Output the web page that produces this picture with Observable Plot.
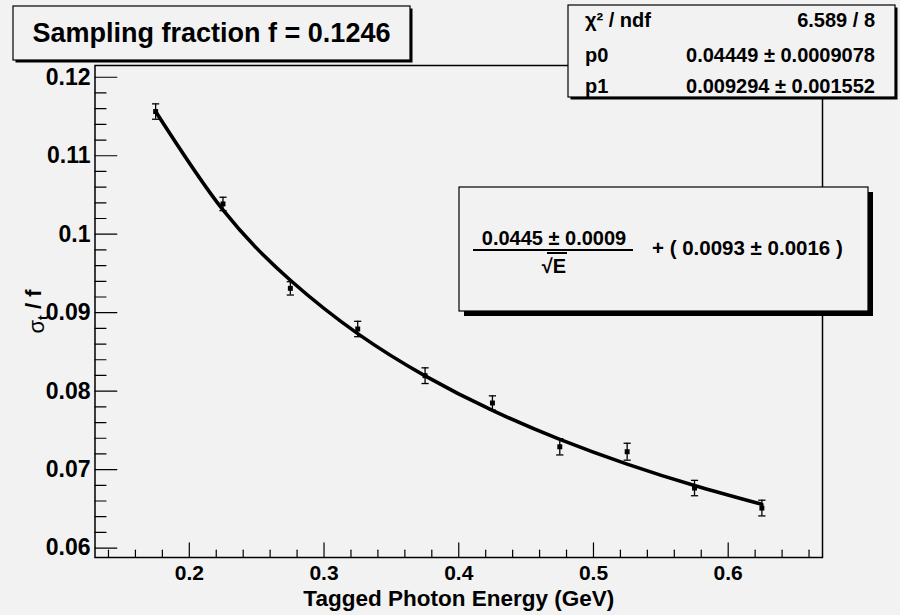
<!DOCTYPE html>
<html><head><meta charset="utf-8">
<script src="https://cdn.jsdelivr.net/npm/d3@7"></script>
<script src="https://cdn.jsdelivr.net/npm/@observablehq/plot@0.6"></script>
<style>
html,body{margin:0;padding:0;background:#f2f2f2;}
#chart svg{display:block;}
</style></head><body><div id="chart"></div>
<script>
// ---- data ----
const energy = [0.175, 0.225, 0.275, 0.325, 0.375, 0.425, 0.475, 0.525, 0.575, 0.625];
const resolution = [0.11563, 0.10386, 0.09310, 0.08792, 0.08197, 0.07849, 0.07291, 0.07228, 0.06765, 0.06510];
const resolutionErr = [0.00098, 0.00085, 0.00085, 0.00098, 0.00100, 0.00091, 0.00104, 0.00108, 0.00098, 0.00100];
const fitCurve = [0.11565, 0.10309, 0.09413, 0.08733, 0.08195, 0.07754, 0.07385, 0.07070, 0.06797, 0.06557];

const xTicks = [0.2, 0.3, 0.4, 0.5, 0.6];
const xTickLabels = ["0.2", "0.3", "0.4", "0.5", "0.6"];
const xMinorTicks = [0.14, 0.16, 0.18, 0.22, 0.24, 0.26, 0.28, 0.32, 0.34, 0.36, 0.38,
  0.42, 0.44, 0.46, 0.48, 0.52, 0.54, 0.56, 0.58, 0.62, 0.64, 0.66];
const yTicks = [0.06, 0.07, 0.08, 0.09, 0.10, 0.11, 0.12];
const yTickLabels = ["0.06", "0.07", "0.08", "0.09", "0.1", "0.11", "0.12"];
const yMinorTicks = [0.062, 0.064, 0.066, 0.068, 0.072, 0.074, 0.076, 0.078, 0.082, 0.084, 0.086, 0.088,
  0.092, 0.094, 0.096, 0.098, 0.102, 0.104, 0.106, 0.108, 0.112, 0.114, 0.116, 0.118];

const titleText = "Sampling fraction f = 0.1246";
const xTitle = "Tagged Photon Energy (GeV)";
const yTitle = "σt / f";
const statsNames = ["χ² / ndf", "p0", "p1"];
const statsValues = ["6.589 / 8", "0.04449 ± 0.0009078", "0.009294 ± 0.001552"];
const formulaNumerator = "0.0445 ± 0.0009";
const formulaDenominator = "√E";
const formulaRest = "+ ( 0.0093 ± 0.0016 )";

const xDomain = [0.13, 0.67];
const yDomain = [0.0588, 0.1215];

// ---- build ----
const data = energy.map((e, i) => ({e, v: resolution[i], err: resolutionErr[i], fit: fitCurve[i]}));
const xLab = new Map(xTicks.map((t, i) => [t, xTickLabels[i]]));
const yLab = new Map(yTicks.map((t, i) => [t, yTickLabels[i]]));
const FONT = "'Liberation Sans', Arial, Helvetica, sans-serif";

const tickShape = {draw(ctx, l) { ctx.moveTo(0, 0); ctx.lineTo(0, -l); }};
const capSymbol = {draw(ctx) { ctx.moveTo(-3.6, 0); ctx.lineTo(3.6, 0); }};

const plot = Plot.plot({
  width: 900, height: 615,
  marginLeft: 94.5, marginRight: 78, marginTop: 65, marginBottom: 58,
  style: {background: "#f2f2f2", fontFamily: FONT, fontWeight: "bold", color: "black"},
  x: {domain: xDomain},
  y: {domain: yDomain},
  marks: [
    // major & minor ticks (inward, ROOT style)
    Plot.vector(yTicks, {x: xDomain[0], y: d => d, length: 21.8, rotate: 90, anchor: "start", shape: tickShape, stroke: "black", strokeWidth: 1.2}),
    Plot.vector(yMinorTicks, {x: xDomain[0], y: d => d, length: 11, rotate: 90, anchor: "start", shape: tickShape, stroke: "black", strokeWidth: 1.2}),
    Plot.vector(xTicks, {x: d => d, y: yDomain[0], length: 14.6, rotate: 0, anchor: "start", shape: tickShape, stroke: "black", strokeWidth: 1.2}),
    Plot.vector(xMinorTicks, {x: d => d, y: yDomain[0], length: 7.3, rotate: 0, anchor: "start", shape: tickShape, stroke: "black", strokeWidth: 1.2}),
    Plot.axisY({ticks: yTicks, tickFormat: d => yLab.get(d), tickSize: 0, tickPadding: 4.5, fontSize: 23, fontWeight: "bold", label: null}),
    Plot.axisX({ticks: xTicks, tickFormat: d => xLab.get(d), tickSize: 0, tickPadding: 7.5, fontSize: 21, fontWeight: "bold", label: null}),
    // error bars
    Plot.ruleX(data, {x: "e", y1: d => d.v - d.err, y2: d => d.v + d.err, stroke: "black", strokeWidth: 1.3}),
    Plot.dot(data, {x: "e", y: d => d.v + d.err, symbol: capSymbol, r: 3, stroke: "black", fill: "none", strokeWidth: 1.3}),
    Plot.dot(data, {x: "e", y: d => d.v - d.err, symbol: capSymbol, r: 3, stroke: "black", fill: "none", strokeWidth: 1.3}),
    Plot.dot(data, {x: "e", y: "v", symbol: "square", r: 2.8, fill: "black", stroke: "none"}),
    // fit curve
    Plot.line(data, {x: "e", y: "fit", curve: "natural", stroke: "black", strokeWidth: 3.6}),
    Plot.frame({stroke: "black", strokeWidth: 1.5}),
    // axis titles
    Plot.text([xTitle], {text: d => d, frameAnchor: "bottom", dy: 48, lineAnchor: "bottom", textAnchor: "middle", fontSize: 22.5, fontWeight: "bold"}),
    Plot.text([yTitle], {text: d => d, frameAnchor: "left", dx: -51.5, rotate: -90, lineAnchor: "bottom", textAnchor: "middle", fontSize: 22, fontWeight: "bold"})
  ]
});
document.getElementById("chart").appendChild(plot);

const svg = d3.select(plot);
// y title: sigma with subscript t
svg.selectAll("text").filter(function() { return this.textContent === yTitle; }).each(function() {
  const t = d3.select(this);
  t.text(null);
  t.append("tspan").text("σ").attr("font-weight", "normal");
  t.append("tspan").text("t").attr("font-size", 14).attr("dy", "0.3em");
  t.append("tspan").text(" / f").attr("dy", "-0.3em");
});

const layer = svg.append("g").attr("font-family", FONT).attr("font-weight", "bold")
  .attr("fill", "black").attr("text-anchor", "start");
function box(x0, y0, x1, y1, sh) {
  layer.append("rect").attr("x", x0 + sh).attr("y", y0 + sh).attr("width", x1 - x0).attr("height", y1 - y0).attr("fill", "black");
  layer.append("rect").attr("x", x0).attr("y", y0).attr("width", x1 - x0).attr("height", y1 - y0)
    .attr("fill", "#f2f2f2").attr("stroke", "black").attr("stroke-width", 1.2);
}
// title box
box(13, 6, 410, 60, 2.5);
layer.append("text").attr("x", 211.5).attr("y", 42).attr("text-anchor", "middle").attr("font-size", 27).text(titleText);
// stats box
box(568, 5, 895, 97, 2.5);
const rowBase = [27, 62, 93];
statsNames.forEach((n, i) => {
  layer.append("text").attr("x", 585).attr("y", rowBase[i]).attr("text-anchor", "start").attr("font-size", 20).text(n);
  layer.append("text").attr("x", 875).attr("y", rowBase[i]).attr("text-anchor", "end").attr("font-size", 20).text(statsValues[i]);
});
// formula box
box(459, 187, 868, 311, 5);
layer.append("text").attr("x", 554).attr("y", 245).attr("text-anchor", "middle").attr("font-size", 20).text(formulaNumerator);
layer.append("line").attr("x1", 473).attr("x2", 633).attr("y1", 250).attr("y2", 250).attr("stroke", "black").attr("stroke-width", 2.2);
layer.append("text").attr("x", 554).attr("y", 273).attr("text-anchor", "middle").attr("font-size", 20).text(formulaDenominator);
layer.append("line").attr("x1", 547).attr("x2", 567).attr("y1", 253).attr("y2", 253).attr("stroke", "black").attr("stroke-width", 2);
layer.append("text").attr("x", 652).attr("y", 255).attr("text-anchor", "start").attr("font-size", 20.5).text(formulaRest);
</script>
</body></html>
